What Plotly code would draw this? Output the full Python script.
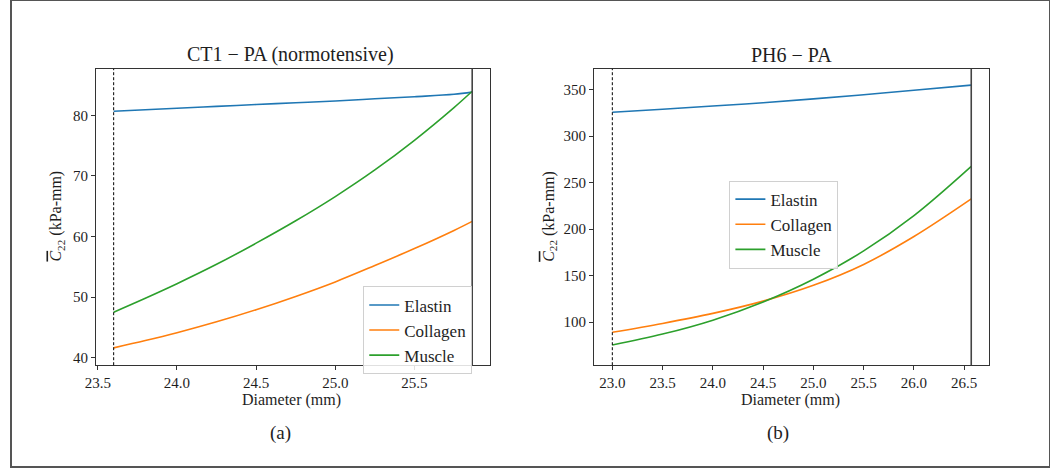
import plotly.graph_objects as go

# ---- data ----
series_names = ["Elastin", "Collagen", "Muscle"]
series_colors = ["#1f77b4", "#ff7f0e", "#2ca02c"]

ct1_diameter = [23.6, 23.8, 24.0, 24.25, 24.5, 24.75, 25.0, 25.25, 25.5, 25.75, 25.865]
ct1_elastin = [80.7, 80.95, 81.2, 81.5, 81.8, 82.1, 82.4, 82.75, 83.1, 83.5, 83.85]
ct1_collagen = [41.6, 42.8, 44.1, 45.9, 47.9, 50.1, 52.5, 55.2, 58.0, 61.0, 62.5]
ct1_muscle = [47.5, 49.8, 52.2, 55.4, 58.9, 62.6, 66.6, 71.0, 75.9, 81.3, 84.0]
ct1_markers = [23.6, 25.865]  # dashed (start), solid (end)

ph6_diameter = [23.0, 23.5, 24.0, 24.5, 25.0, 25.5, 26.0, 26.57]
ph6_elastin = [325.8, 329.0, 332.5, 336.0, 340.2, 344.6, 349.5, 355.0]
ph6_collagen = [89.0, 98.5, 109.3, 122.5, 139.5, 162.0, 192.0, 232.5]
ph6_muscle = [75.3, 87.0, 102.0, 121.5, 146.0, 176.5, 214.5, 267.5]
ph6_markers = [23.0, 26.57]

titles = ["CT1 \u2212 PA (normotensive)", "PH6 \u2212 PA"]
sub_labels = ["(a)", "(b)"]
x_title = "Diameter (mm)"
y_title = "<span style='text-decoration:overline'><i>C</i></span><sub>22</sub> (kPa-mm)"

FONT = "Liberation Serif"
TXT = "#1e1e1e"
W, H = 1050, 468

fig = go.Figure()

panels = [
    dict(x=ct1_diameter, ys=[ct1_elastin, ct1_collagen, ct1_muscle], markers=ct1_markers,
         xa="x", ya="y", legend="legend"),
    dict(x=ph6_diameter, ys=[ph6_elastin, ph6_collagen, ph6_muscle], markers=ph6_markers,
         xa="x2", ya="y2", legend="legend2"),
]

for p in panels:
    for name, color, y in zip(series_names, series_colors, p["ys"]):
        fig.add_trace(go.Scatter(
            x=p["x"], y=y, mode="lines", name=name,
            line=dict(color=color, width=1.6, shape="spline", smoothing=1.0),
            xaxis=p["xa"], yaxis=p["ya"], legend=p["legend"], showlegend=True,
        ))
    fig.add_shape(type="line", xref=p["xa"], yref=p["ya"] + " domain",
                  x0=p["markers"][0], x1=p["markers"][0], y0=0, y1=1,
                  line=dict(color="black", width=1, dash="3px,2px"))
    fig.add_shape(type="line", xref=p["xa"], yref=p["ya"] + " domain",
                  x0=p["markers"][1], x1=p["markers"][1], y0=0, y1=1,
                  line=dict(color="#444444", width=1.6))


def px_x(v):
    return v / W


def px_y(v):
    return 1 - v / H


axis_common = dict(
    showline=True, mirror=True, linecolor="#333333", linewidth=1.2,
    ticks="outside", ticklen=4, tickwidth=1, tickcolor="#333333",
    showgrid=False, zeroline=False,
    tickfont=dict(family=FONT, size=15, color=TXT),
)

legend_common = dict(
    xanchor="left", yanchor="top",
    bgcolor="rgba(255,255,255,0.85)", bordercolor="#d0d0d0", borderwidth=1,
    font=dict(family=FONT, size=17, color=TXT), tracegroupgap=0,
    itemwidth=30,
)

fig.update_layout(
    width=W, height=H,
    margin=dict(l=0, r=0, t=0, b=0),
    paper_bgcolor="white", plot_bgcolor="white",
    font=dict(family=FONT, color=TXT),
    xaxis=dict(domain=[px_x(86), px_x(484)], range=[23.489, 25.977], dtick=0.5, tickformat=".1f",
               anchor="y", **axis_common),
    yaxis=dict(domain=[px_y(366), px_y(69)], range=[38.73, 87.7], dtick=10,
               anchor="x", **axis_common),
    xaxis2=dict(domain=[px_x(589.3), px_x(988.3)], range=[22.819, 26.746], dtick=0.5, tickformat=".1f",
                anchor="y2", **axis_common),
    yaxis2=dict(domain=[px_y(366), px_y(69)], range=[53.5, 372.5], dtick=50,
                anchor="x2", **axis_common),
    legend=dict(x=px_x(356), y=px_y(287), **legend_common),
    legend2=dict(x=px_x(726), y=px_y(181), **legend_common),
    showlegend=True,
)

ann = []
title_x = [282.5, 788.5]
xlab_x = [283, 788]
ylab_x = [46.5, 544]
sub_x = [272, 775]
for i in range(2):
    ann.append(dict(text=titles[i], x=px_x(title_x[i]), y=px_y(55), xref="paper", yref="paper",
                    showarrow=False, xanchor="center", yanchor="middle",
                    font=dict(family=FONT, size=20, color=TXT)))
    ann.append(dict(text=x_title, x=px_x(xlab_x[i]), y=px_y(401), xref="paper", yref="paper",
                    showarrow=False, xanchor="center", yanchor="middle",
                    font=dict(family=FONT, size=16, color=TXT)))
    ann.append(dict(text=y_title, x=px_x(ylab_x[i]), y=px_y(217), xref="paper", yref="paper",
                    showarrow=False, xanchor="center", yanchor="middle", textangle=-90,
                    font=dict(family=FONT, size=16, color=TXT)))
    ann.append(dict(text=sub_labels[i], x=px_x(sub_x[i]), y=px_y(434), xref="paper", yref="paper",
                    showarrow=False, xanchor="center", yanchor="middle",
                    font=dict(family=FONT, size=19, color=TXT)))
fig.update_layout(annotations=ann)

# outer frame
fig.add_shape(type="rect", xref="paper", yref="paper", x0=0, y0=0, x1=1, y1=1,
              line=dict(color="#555555", width=2), fillcolor="rgba(0,0,0,0)")

fig.write_html("out.html", config={"displayModeBar": False},
               post_script="document.body.style.margin='0px';")
